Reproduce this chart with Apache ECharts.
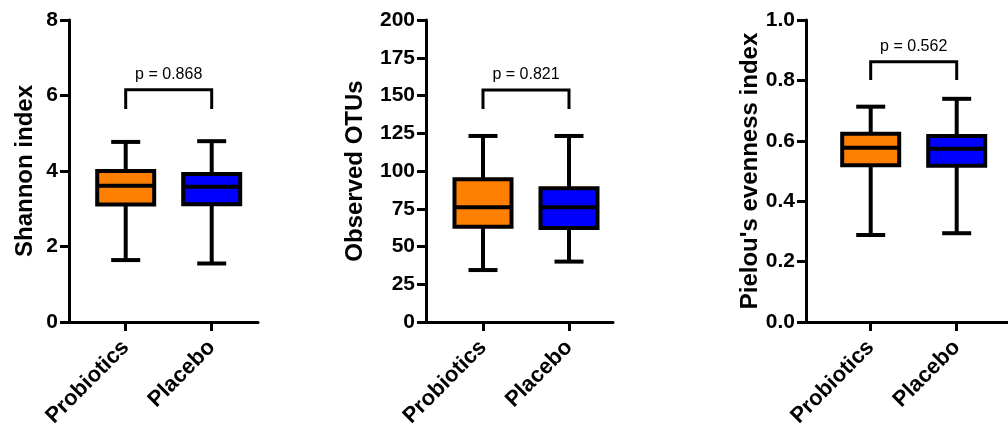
<!DOCTYPE html>
<html>
<head>
<meta charset="utf-8">
<script src="https://cdn.jsdelivr.net/npm/echarts@6/dist/echarts.min.js"></script>
<style>
  html, body { margin: 0; padding: 0; background: #fff; }
  #main { width: 1008px; height: 432px; }
</style>
</head>
<body>
<div id="main"></div>
<script>
// groups
const groups = ["Probiotics", "Placebo"];
const groupColors = ["#ff8000", "#0000ff"];

// [min, Q1, median, Q3, max]
const shannonBox = [
  [1.64, 3.11, 3.61, 4.0, 4.77],
  [1.55, 3.12, 3.58, 3.92, 4.79],
];
const otuBox = [
  [34.4, 63.1, 76, 94.5, 123.2],
  [40, 62.3, 76, 88.5, 123.2],
];
const pielouBox = [
  [0.288, 0.519, 0.577, 0.623, 0.713],
  [0.294, 0.517, 0.574, 0.616, 0.739],
];

// bracket [legs bottom, bracket top] and p text
const shannonBracket = [5.64, 6.15];
const otuBracket = [141, 153.6];
const pielouBracket = [0.801, 0.862];
const pTexts = ["p = 0.868", "p = 0.821", "p = 0.562"];

// axes
const yNames = ["Shannon index", "Observed OTUs", "Pielou's evenness index"];
const yMax = [8, 200, 1.0];
const yStep = [2, 25, 0.2];

const panels = [
  { box: shannonBox, bracket: shannonBracket, axisX: 69, axisEnd: 258, cat0: 125.7, nameGap: 32, digits: 0 },
  { box: otuBox, bracket: otuBracket, axisX: 426, axisEnd: 613, cat0: 483, nameGap: 59, digits: 0 },
  { box: pielouBox, bracket: pielouBracket, axisX: 806, axisEnd: 1008, cat0: 870.7, nameGap: 41, digits: 1 },
];

const FONT = "Liberation Sans, Arial, sans-serif";
const catStep = 86;
const gridTop = 20;
const gridH = 302;

const grid = [];
const xAxis = [];
const yAxis = [];
const series = [];

function renderBox(params, api) {
  const c = api.value(0);
  const pMin = api.coord([c, api.value(1)]);
  const pQ1 = api.coord([c, api.value(2)]);
  const pMed = api.coord([c, api.value(3)]);
  const pQ3 = api.coord([c, api.value(4)]);
  const pMax = api.coord([c, api.value(5)]);
  const x = pMed[0];
  const half = 28.5;
  const cap = 14.5;
  const color = groupColors[c];
  const line = { stroke: "#000", lineWidth: 4 };
  return {
    type: "group",
    children: [
      { type: "line", shape: { x1: x, y1: pQ3[1], x2: x, y2: pMax[1] }, style: line },
      { type: "line", shape: { x1: x, y1: pQ1[1], x2: x, y2: pMin[1] }, style: line },
      { type: "line", shape: { x1: x - cap, y1: pMax[1], x2: x + cap, y2: pMax[1] }, style: line },
      { type: "line", shape: { x1: x - cap, y1: pMin[1], x2: x + cap, y2: pMin[1] }, style: line },
      {
        type: "rect",
        shape: { x: x - half, y: pQ3[1], width: half * 2, height: pQ1[1] - pQ3[1] },
        style: { fill: color, stroke: "#000", lineWidth: 4 },
      },
      { type: "line", shape: { x1: x - half, y1: pMed[1], x2: x + half, y2: pMed[1] }, style: line },
    ],
  };
}

function makeBracketRender(text) {
  return function (params, api) {
    const a0 = api.coord([api.value(0), api.value(2)]);
    const a1 = api.coord([api.value(0), api.value(3)]);
    const b1 = api.coord([api.value(1), api.value(3)]);
    const b0 = api.coord([api.value(1), api.value(2)]);
    return {
      type: "group",
      children: [
        {
          type: "polyline",
          shape: { points: [a0, a1, b1, b0] },
          style: { stroke: "#000", lineWidth: 3, fill: null },
        },
        {
          type: "text",
          style: {
            x: (a1[0] + b1[0]) / 2,
            y: a1[1] - 15,
            text: text,
            align: "center",
            verticalAlign: "middle",
            font: "16px " + FONT,
            fill: "#000",
          },
        },
      ],
    };
  };
}

panels.forEach((p, i) => {
  const fg = i * 2;
  const bg = i * 2 + 1;
  // frame grid: y axis and x axis line
  grid.push({ left: p.axisX, top: gridTop, width: p.axisEnd - p.axisX, height: gridH });
  // box grid: categories
  grid.push({ left: p.cat0 - catStep / 2, top: gridTop, width: catStep * 2, height: gridH });

  xAxis.push({
    gridIndex: fg,
    type: "value",
    min: 0,
    max: 1,
    axisLine: { show: true, onZero: false, lineStyle: { color: "#000", width: 3 } },
    axisTick: { show: false },
    axisLabel: { show: false },
    splitLine: { show: false },
  });
  xAxis.push({
    gridIndex: bg,
    type: "category",
    data: groups,
    axisLine: { show: false },
    axisTick: { show: true, alignWithLabel: true, length: 9, lineStyle: { color: "#000", width: 3 } },
    axisLabel: {
      rotate: 45,
      margin: 22,
      interval: 0,
      color: "#000",
      fontSize: 22,
      fontWeight: "bold",
      fontFamily: FONT,
    },
    splitLine: { show: false },
  });

  yAxis.push({
    gridIndex: fg,
    type: "value",
    min: 0,
    max: yMax[i],
    interval: yStep[i],
    name: yNames[i],
    nameLocation: "middle",
    nameGap: p.nameGap,
    nameTextStyle: { color: "#000", fontSize: 24, fontWeight: "bold", fontFamily: FONT },
    axisLine: { show: true, lineStyle: { color: "#000", width: 3 } },
    axisTick: { show: true, length: 9, lineStyle: { color: "#000", width: 3 } },
    axisLabel: {
      margin: 11,
      color: "#000",
      fontSize: 21,
      fontWeight: "bold",
      fontFamily: FONT,
      formatter: (v) => v.toFixed(p.digits),
    },
    splitLine: { show: false },
  });
  yAxis.push({
    gridIndex: bg,
    type: "value",
    min: 0,
    max: yMax[i],
    show: false,
  });

  series.push({
    type: "custom",
    xAxisIndex: bg,
    yAxisIndex: bg,
    clip: false,
    encode: { x: 0, y: [1, 2, 3, 4, 5] },
    data: p.box.map((v, k) => [k].concat(v)),
    renderItem: renderBox,
    z: 5,
  });
  series.push({
    type: "custom",
    xAxisIndex: bg,
    yAxisIndex: bg,
    clip: false,
    encode: { x: [0, 1], y: [2, 3] },
    data: [[0, 1, p.bracket[0], p.bracket[1]]],
    renderItem: makeBracketRender(pTexts[i]),
    z: 5,
  });
});

const chart = echarts.init(document.getElementById("main"), null, { renderer: "canvas" });
chart.setOption({
  animation: false,
  backgroundColor: "#fff",
  grid: grid,
  xAxis: xAxis,
  yAxis: yAxis,
  series: series,
});
</script>
</body>
</html>
